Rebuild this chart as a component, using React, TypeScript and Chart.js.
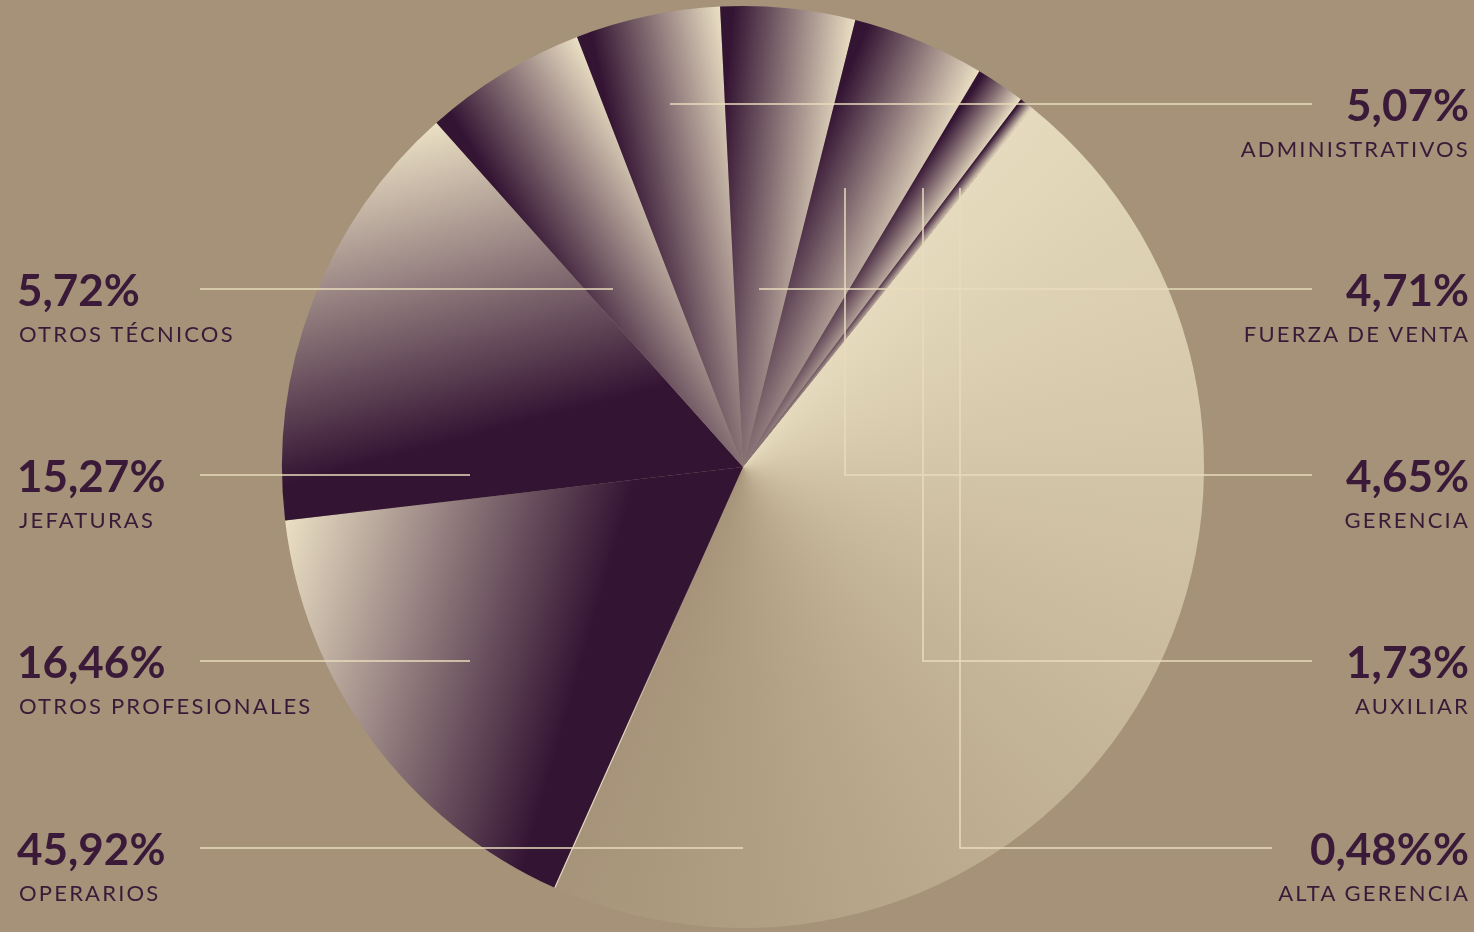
import React, { useEffect, useRef } from "react";
import { Chart, registerables } from "chart.js";

Chart.register(...registerables);

// ---------- data ----------
const categories = [
  "Operarios",
  "Otros profesionales",
  "Jefaturas",
  "Otros técnicos",
  "Administrativos",
  "Fuerza de venta",
  "Gerencia",
  "Auxiliar",
  "Alta gerencia",
];
const shares = [45.92, 16.46, 15.27, 5.72, 5.07, 4.71, 4.65, 1.73, 0.48];
const valueLabels = ["45,92%", "16,46%", "15,27%", "5,72%", "5,07%", "4,71%", "4,65%", "1,73%", "0,48%%"];
const categoryLabels = [
  "OPERARIOS",
  "OTROS PROFESIONALES",
  "JEFATURAS",
  "OTROS TÉCNICOS",
  "ADMINISTRATIVOS",
  "FUERZA DE VENTA",
  "GERENCIA",
  "AUXILIAR",
  "ALTA GERENCIA",
];

// ---------- layout / style ----------
const W = 1474;
const H = 932;
const BG = "#a59279";
const DARK = "#341433";
const CREAM = "#ebe0c4";
const OPER_START = "#e5dabd";
const OPER_MID = "#cbbc9f";
const OPER_END = "#a69379";
const INK = "#3a1a38";
const LINE = "#e9dcbd";
const ROTATION = 38.8; // degrees, clockwise from 12 o'clock
const ROWS = [104, 289, 475, 661, 848];
const LEFT_LINE_X = 200;

// side, row, leader geometry relative to pie centre (px)
type Leader = { side: "left" | "right"; row: number; dx: number; elbowTop?: number; outerX?: number };
const leaders: Leader[] = [
  { side: "left", row: 4, dx: 0 },
  { side: "left", row: 3, dx: -273 },
  { side: "left", row: 2, dx: -273 },
  { side: "left", row: 1, dx: -130 },
  { side: "right", row: 0, dx: -73, outerX: 1312 },
  { side: "right", row: 1, dx: 16, outerX: 1312 },
  { side: "right", row: 2, dx: 102, elbowTop: -279, outerX: 1312 },
  { side: "right", row: 3, dx: 180, elbowTop: -279, outerX: 1312 },
  { side: "right", row: 4, dx: 217, elbowTop: -279, outerX: 1272 },
];

function sliceFill(c: any): any {
  const chart = c.chart;
  const area = chart.chartArea;
  const i = c.dataIndex;
  if (!area || i === undefined) return DARK;
  const cx = (area.left + area.right) / 2;
  const cy = (area.top + area.bottom) / 2;
  const R = Math.min(area.right - area.left, area.bottom - area.top) / 2;
  const total = shares.reduce((a, b) => a + b, 0);
  let acc = 0;
  for (let k = 0; k < i; k++) acc += shares[k];
  const a0 = ((ROTATION - 90) * Math.PI) / 180 + (acc / total) * 2 * Math.PI;
  const sweep = (shares[i] / total) * 2 * Math.PI;
  const g: CanvasRenderingContext2D = chart.ctx;
  if (i === 0) {
    const cg = (g as any).createConicGradient(a0, cx, cy);
    const f = sweep / (2 * Math.PI);
    cg.addColorStop(0, OPER_START);
    cg.addColorStop(f * 0.45, OPER_MID);
    cg.addColorStop(f, OPER_END);
    cg.addColorStop(1, OPER_END);
    return cg;
  }
  const phi = sweep > (40 * Math.PI) / 180 ? (82 * Math.PI) / 180 : Math.PI / 2 + sweep / 2;
  const th = a0 + phi;
  const ux = Math.cos(th);
  const uy = Math.sin(th);
  const pA = R * Math.cos(phi);
  const pB = R * Math.cos(sweep - phi);
  const lg = g.createLinearGradient(cx + ux * pA, cy + uy * pA, cx + ux * pB, cy + uy * pB);
  lg.addColorStop(0, DARK);
  lg.addColorStop(0.1, DARK);
  lg.addColorStop(1, CREAM);
  return lg;
}

const leaderPlugin = {
  id: "leaders",
  afterDatasetsDraw(chart: any) {
    const meta = chart.getDatasetMeta(0);
    const arc0 = meta.data[0];
    if (!arc0) return;
    const cx = arc0.x;
    const cy = arc0.y;
    const R = arc0.outerRadius;
    const ctx: CanvasRenderingContext2D = chart.ctx;
    ctx.save();
    // light edge of the largest slice, fading in towards the rim
    const e = arc0.endAngle;
    const x1 = cx + Math.cos(e) * R * 0.25;
    const y1 = cy + Math.sin(e) * R * 0.25;
    const x2 = cx + Math.cos(e) * R;
    const y2 = cy + Math.sin(e) * R;
    const sg = ctx.createLinearGradient(x1, y1, x2, y2);
    sg.addColorStop(0, "rgba(236,226,200,0)");
    sg.addColorStop(0.5, "rgba(236,226,200,0.9)");
    sg.addColorStop(1, "rgba(236,226,200,0.95)");
    ctx.strokeStyle = sg;
    ctx.lineWidth = 1.2;
    ctx.beginPath();
    ctx.moveTo(x1, y1);
    ctx.lineTo(x2, y2);
    ctx.stroke();

    ctx.strokeStyle = LINE;
    ctx.lineWidth = 1.5;
    leaders.forEach((l) => {
      const y = ROWS[l.row];
      const x = cx + l.dx;
      ctx.beginPath();
      if (l.side === "left") {
        ctx.moveTo(LEFT_LINE_X, y);
        ctx.lineTo(x, y);
      } else {
        if (l.elbowTop !== undefined) {
          ctx.moveTo(x, cy + l.elbowTop);
          ctx.lineTo(x, y);
        } else {
          ctx.moveTo(x, y);
        }
        ctx.lineTo(l.outerX ?? 1312, y);
      }
      ctx.stroke();
    });
    ctx.restore();
  },
};

export default function App() {
  const ref = useRef<HTMLCanvasElement | null>(null);
  useEffect(() => {
    if (!ref.current) return;
    const chart = new Chart(ref.current, {
      type: "pie",
      data: {
        labels: categories,
        datasets: [
          {
            data: shares,
            backgroundColor: sliceFill as any,
            borderWidth: 0,
            hoverOffset: 0,
          },
        ],
      },
      options: {
        responsive: false,
        animation: false,
        rotation: ROTATION,
        events: [],
        layout: { padding: { left: 282, right: 270, top: 6, bottom: 4 } },
        plugins: { legend: { display: false }, tooltip: { enabled: false } },
      },
      plugins: [leaderPlugin],
    });
    return () => chart.destroy();
  }, []);

  return (
    <div
      style={{
        position: "fixed",
        left: 0,
        top: 0,
        width: W,
        height: H,
        background: BG,
        overflow: "hidden",
        fontFamily: "Lato, 'Open Sans', sans-serif",
      }}
    >
      <canvas ref={ref} width={W} height={H} style={{ position: "absolute", left: 0, top: 0, display: "block" }} />
      {leaders.map((l, i) => {
        const y = ROWS[l.row];
        const horiz: React.CSSProperties = l.side === "left" ? { left: 17, textAlign: "left" } : { right: 5, textAlign: "right" };
        const horizLabel: React.CSSProperties = l.side === "left" ? { left: 19, textAlign: "left" } : { right: 4, textAlign: "right" };
        return (
          <React.Fragment key={i}>
            <div
              style={{
                position: "absolute",
                top: y + 1 - 23,
                ...horiz,
                fontSize: 44,
                lineHeight: "44px",
                fontWeight: 700,
                color: INK,
                whiteSpace: "nowrap",
              }}
            >
              {valueLabels[i]}
            </div>
            <div
              style={{
                position: "absolute",
                top: y + 34,
                ...horizLabel,
                fontSize: 22,
                lineHeight: "22px",
                fontWeight: 400,
                letterSpacing: "2.2px",
                color: INK,
                whiteSpace: "nowrap",
              }}
            >
              {categoryLabels[i]}
            </div>
          </React.Fragment>
        );
      })}
    </div>
  );
}
